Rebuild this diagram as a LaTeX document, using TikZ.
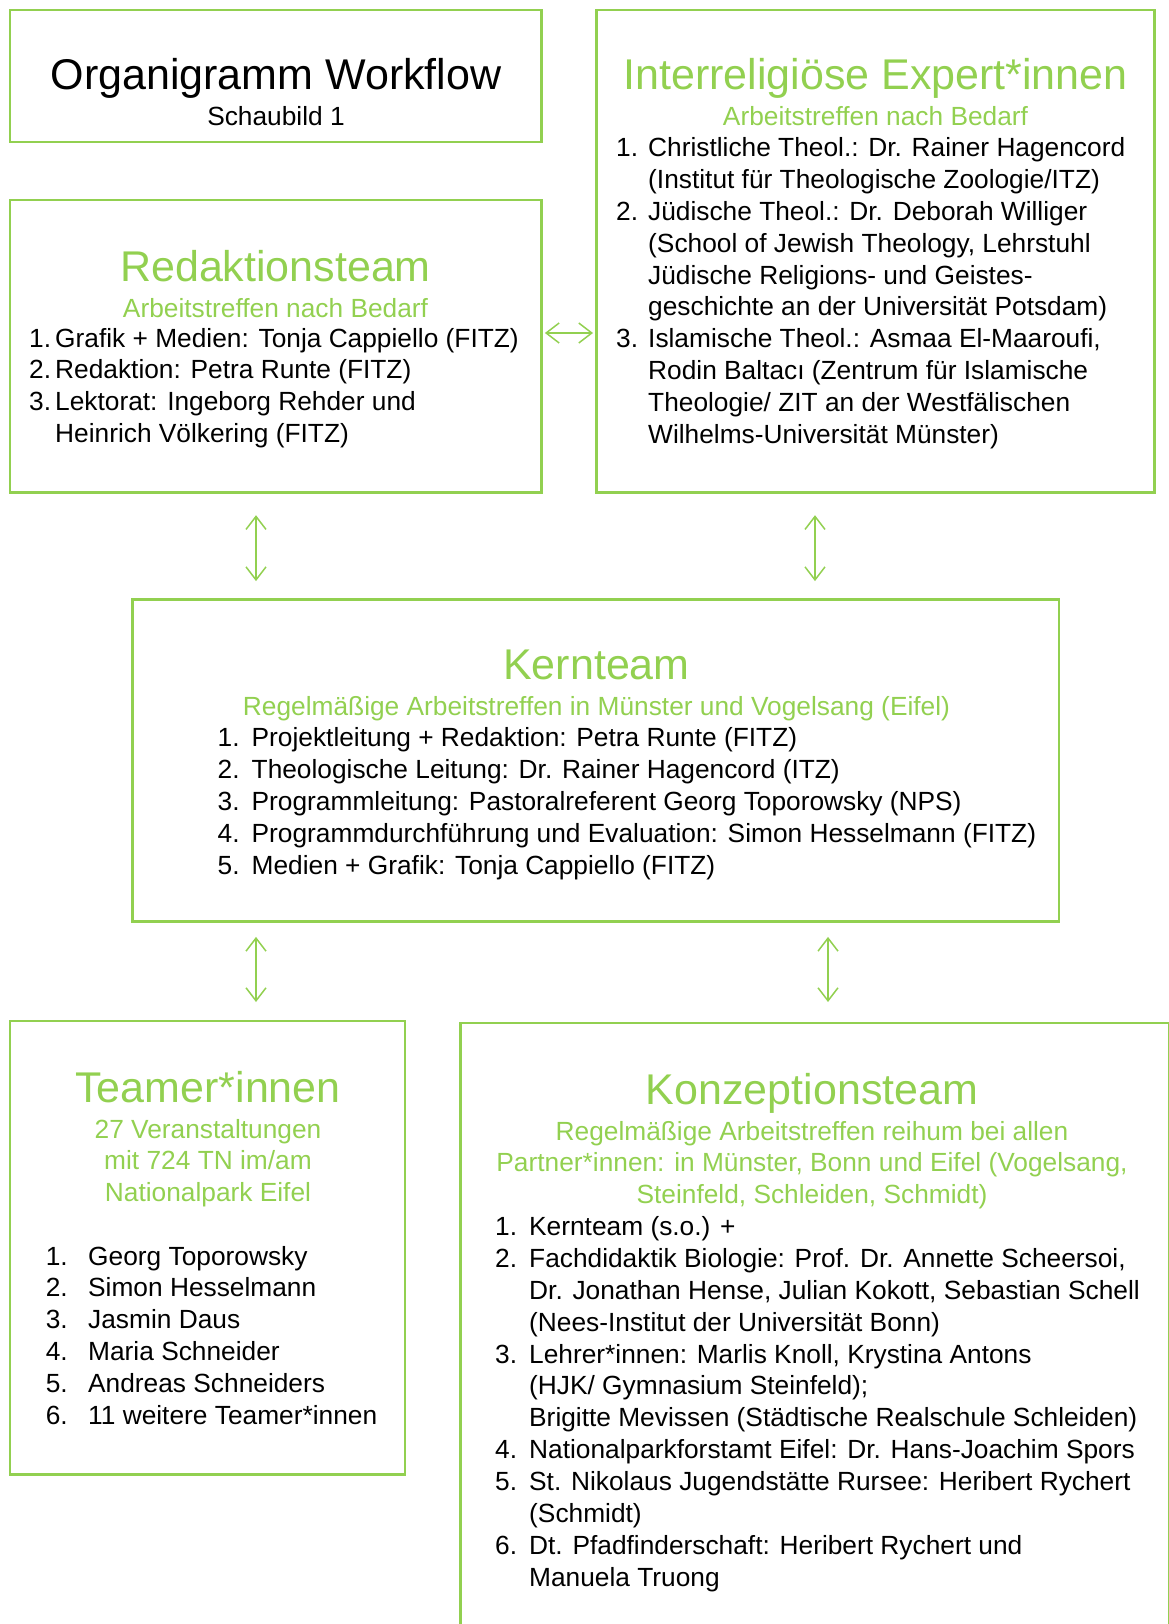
\documentclass[tikz,border=0pt]{standalone}
\usepackage{fontspec}
\setmainfont{Liberation Sans}
\usepackage{tikz}
\usetikzlibrary{arrows.meta}

\definecolor{gruen}{RGB}{146,208,80}
\newcommand{\gross}{\fontsize{43}{50}\selectfont}
\newcommand{\klein}{\fontsize{26.3}{31.9}\selectfont}

\tikzset{
	kasten/.style = { draw = gruen , line width = 2.8pt , inner sep = 0pt },
	titel/.style = { anchor = base , inner sep = 0pt , font = \gross , text = gruen },
	untertitel/.style = { anchor = base , inner sep = 0pt , font = \klein , text = gruen },
	liste/.style = { anchor = base west , inner sep = 0pt , font = \klein },
	spitze/.tip = { Straight Barb[length=13pt,width=20pt] },
	pfeil/.style = { spitze-spitze , draw = gruen , line width = 1.5pt },
}

\begin{document}
\begin{tikzpicture}[ x = 1pt , y = -1pt ]
	\useasboundingbox (0,0) rectangle (1169,1624);
	\node [ kasten , minimum width = 531.5pt , minimum height = 132pt ] (1) at (275.75,76) {};
	\node [ kasten , minimum width = 558.1pt , minimum height = 482.8pt ] (2) at (875.45,251.4) {};
	\node [ kasten , minimum width = 531.5pt , minimum height = 292.8pt ] (3) at (275.75,346.4) {};
	\node [ kasten , minimum width = 926.5pt , minimum height = 322pt ] (4) at (595.75,760.5) {};
	\node [ kasten , minimum width = 395pt , minimum height = 453.5pt ] (5) at (207.5,1247.75) {};
	\node [ kasten , minimum width = 708.8pt , minimum height = 677pt ] (6) at (815.1,1361.5) {};

	\node [ titel , text = black ] (1t) at (276,90) {Organigramm Workflow};
	\node [ untertitel , text = black ] (1s) at (276,125.5) {Schaubild 1};

	\node [ titel ] (2t) at (875.5,90) {Interreligiöse Expert*innen};
	\node [ untertitel ] (2s) at (875.5,125.5) {Arbeitstreffen nach Bedarf};
	\node [ liste ] (2l) at (616,156.5)
		{ \begin{tabular}[t]{@{}p{32pt}@{}l@{}}
			1. & Christliche Theol.: Dr. Rainer Hagencord \\
			   & (Institut für Theologische Zoologie/ITZ) \\
			2. & Jüdische Theol.: Dr. Deborah Williger \\
			   & (School of Jewish Theology, Lehrstuhl \\
			   & Jüdische Religions- und Geistes- \\
			   & geschichte an der Universität Potsdam) \\
			3. & Islamische Theol.: Asmaa El-Maaroufi, \\
			   & Rodin Baltacı (Zentrum für Islamische \\
			   & Theologie/ ZIT an der Westfälischen \\
			   & Wilhelms-Universität Münster)
		\end{tabular} };

	\node [ titel ] (3t) at (275.5,281.5) {Redaktionsteam};
	\node [ untertitel ] (3s) at (275.5,317) {Arbeitstreffen nach Bedarf};
	\node [ liste ] (3l) at (29,347)
		{ \begin{tabular}[t]{@{}p{26pt}@{}l@{}}
			1. & Grafik + Medien: Tonja Cappiello (FITZ) \\
			2. & Redaktion: Petra Runte (FITZ) \\
			3. & Lektorat: Ingeborg Rehder und \\
			   & Heinrich Völkering (FITZ)
		\end{tabular} };

	\node [ titel ] (4t) at (596.5,679) {Kernteam};
	\node [ untertitel ] (4s) at (596.5,715.5)
		{Regelmäßige Arbeitstreffen in Münster und Vogelsang (Eifel)};
	\node [ liste ] (4l) at (217.5,746.5)
		{ \begin{tabular}[t]{@{}p{34pt}@{}l@{}}
			1. & Projektleitung + Redaktion: Petra Runte (FITZ) \\
			2. & Theologische Leitung: Dr. Rainer Hagencord (ITZ) \\
			3. & Programmleitung: Pastoralreferent Georg Toporowsky (NPS) \\
			4. & Programmdurchführung und Evaluation: Simon Hesselmann (FITZ) \\
			5. & Medien + Grafik: Tonja Cappiello (FITZ)
		\end{tabular} };

	\node [ titel ] (5t) at (208,1102.5) {Teamer*innen};
	\node [ untertitel ] (5s) at (208,1138)
		{ \begin{tabular}[t]{@{}c@{}}
			27 Veranstaltungen \\
			mit 724 TN im/am \\
			Nationalpark Eifel
		\end{tabular} };
	\node [ liste ] (5l) at (45.6,1265)
		{ \begin{tabular}[t]{@{}p{42.4pt}@{}l@{}}
			1. & Georg Toporowsky \\
			2. & Simon Hesselmann \\
			3. & Jasmin Daus \\
			4. & Maria Schneider \\
			5. & Andreas Schneiders \\
			6. & 11 weitere Teamer*innen
		\end{tabular} };

	\node [ titel ] (6t) at (812,1104.5) {Konzeptionsteam};
	\node [ untertitel ] (6s) at (812,1140)
		{ \begin{tabular}[t]{@{}c@{}}
			Regelmäßige Arbeitstreffen reihum bei allen \\
			Partner*innen: in Münster, Bonn und Eifel (Vogelsang, \\
			Steinfeld, Schleiden, Schmidt)
		\end{tabular} };
	\node [ liste ] (6l) at (495,1235.4)
		{ \begin{tabular}[t]{@{}p{34pt}@{}l@{}}
			1. & Kernteam (s.o.) + \\
			2. & Fachdidaktik Biologie: Prof. Dr. Annette Scheersoi, \\
			   & Dr. Jonathan Hense, Julian Kokott, Sebastian Schell \\
			   & (Nees-Institut der Universität Bonn) \\
			3. & Lehrer*innen: Marlis Knoll, Krystina Antons \\
			   & (HJK/ Gymnasium Steinfeld); \\
			   & Brigitte Mevissen (Städtische Realschule Schleiden) \\
			4. & Nationalparkforstamt Eifel: Dr. Hans-Joachim Spors \\
			5. & St. Nikolaus Jugendstätte Rursee: Heribert Rychert \\
			   & (Schmidt) \\
			6. & Dt. Pfadfinderschaft: Heribert Rychert und \\
			   & Manuela Truong
		\end{tabular} };

	\draw [ pfeil , shorten <= 2pt , shorten >= 2pt ] (3.east |- 0,333) to (2.west |- 0,333);
	\draw [ pfeil , shorten <= 21pt , shorten >= 17pt ] (3.south -| 256,0) to (4.north -| 256,0);
	\draw [ pfeil , shorten <= 21pt , shorten >= 17pt ] (2.south -| 815,0) to (4.north -| 815,0);
	\draw [ pfeil , shorten <= 14pt , shorten >= 17.6pt ] (4.south -| 256,0) to (5.north -| 256,0);
	\draw [ pfeil , shorten <= 14pt , shorten >= 19.6pt ] (4.south -| 828,0) to (6.north -| 828,0);
\end{tikzpicture}
\end{document}
